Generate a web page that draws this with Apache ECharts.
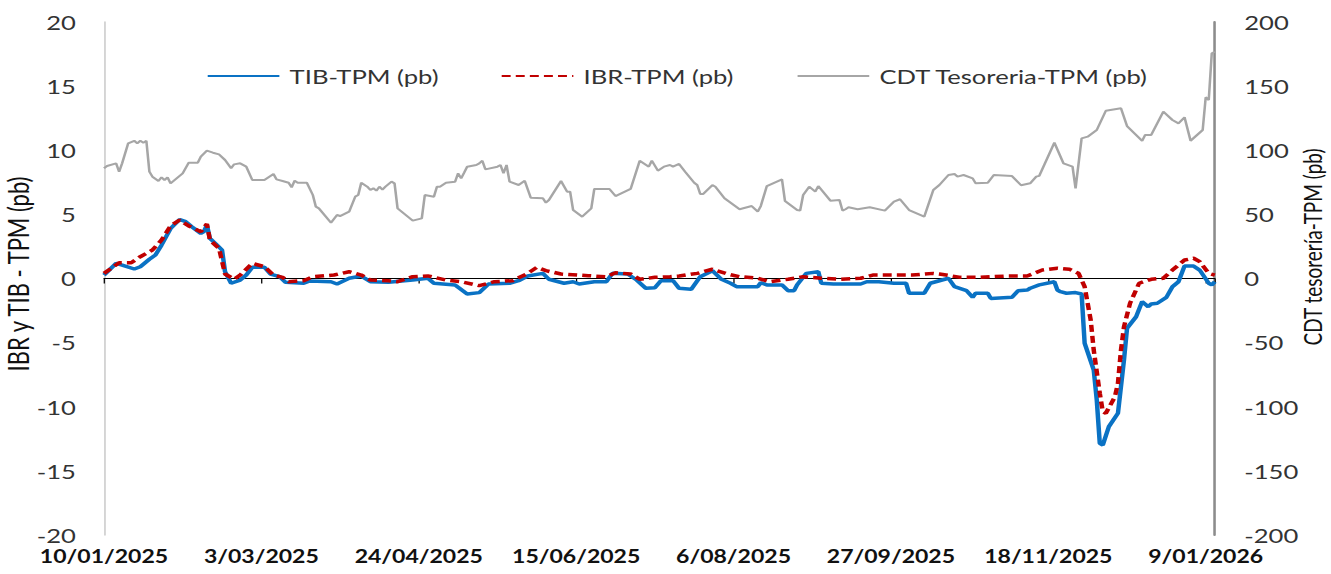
<!DOCTYPE html>
<html>
<head>
<meta charset="utf-8">
<script src="https://cdn.jsdelivr.net/npm/echarts@6/dist/echarts.min.js"></script>
<style>
  html, body { margin: 0; padding: 0; background: #ffffff; overflow: hidden; }
  #main { width: 1040px; height: 574px; transform: scaleX(1.27981); transform-origin: 0 0; }
</style>
</head>
<body>
<div id="main"></div>
<script>
// Days counted from 10/01/2025 (day 0) on a calendar-day axis
const startDate = '10/01/2025';
const tickLabels = ['10/01/2025', '3/03/2025', '24/04/2025', '15/06/2025', '6/08/2025', '27/09/2025', '18/11/2025', '9/01/2026'];
const seriesNames = ['TIB-TPM (pb)', 'IBR-TPM (pb)', 'CDT Tesoreria-TPM (pb)'];

const tibDays = [0,4,6,10,12,15,17,19,22,25,27,29,32,33,34,35,37,39,40,42,45,47,49,53,55,58,60,66,68,75,77,81,85,88,94,102,107,109,116,120,124,127,134,137,140,145,147,152,155,157,162,166,168,173,176,179,182,184,188,190,194,197,201,204,207,209,216,217,219,224,226,228,229,232,236,237,241,250,252,256,261,265,266,271,273,279,281,285,287,288,292,293,300,302,305,306,309,314,315,316,318,321,323,324,327,328,329,330,332,335,337,338,341,343,345,346,348,351,353,355,357,360,362,365,366,367];
const tibValues = [0.27,1.18,1.05,0.74,0.92,1.5,1.83,2.6,3.9,4.6,4.43,4.04,3.52,3.65,4.17,3.13,2.69,2.22,0.53,-0.37,-0.12,0.27,0.87,0.87,0.35,0.14,-0.3,-0.37,-0.19,-0.25,-0.43,0.02,0.19,-0.25,-0.3,-0.12,0.02,-0.37,-0.5,-1.21,-1.1,-0.43,-0.37,-0.17,0.2,0.4,-0.06,-0.37,-0.25,-0.43,-0.25,-0.25,0.4,0.35,-0.12,-0.76,-0.72,-0.17,-0.17,-0.76,-0.84,0.14,0.61,-0.06,-0.37,-0.64,-0.64,-0.33,-0.5,-0.5,-0.95,-0.95,-0.5,0.4,0.53,-0.37,-0.43,-0.43,-0.25,-0.25,-0.37,-0.37,-1.15,-1.15,-0.37,0.02,-0.64,-0.95,-1.47,-1.15,-1.15,-1.55,-1.47,-0.95,-0.9,-0.76,-0.5,-0.25,-0.9,-1.03,-1.15,-1.1,-1.21,-5.05,-7.13,-9.47,-12.85,-12.98,-11.55,-10.51,-6.35,-3.88,-2.98,-1.8,-2.2,-1.99,-1.93,-1.47,-0.64,-0.25,0.97,0.97,0.66,-0.37,-0.5,-0.25];

const ibrDays = [0,5,9,12,16,19,22,25,28,32,34,35,38,40,43,45,49,53,56,59,61,66,69,76,81,85,88,94,97,102,107,113,118,124,129,135,140,143,146,151,160,166,169,174,177,182,187,190,196,201,206,210,216,220,226,231,237,243,250,254,267,274,276,283,289,298,305,310,315,319,322,324,326,327,329,330,331,334,335,336,337,339,342,346,350,353,357,360,362,365,367];
const ibrValues = [0.4,1.23,1.23,1.7,2.22,3.0,4.1,4.56,4.1,3.65,4.25,3.0,2.35,0.35,-0.06,0.27,1.18,0.92,0.27,0.09,-0.25,-0.17,0.14,0.27,0.53,0.27,-0.12,-0.17,-0.25,0.14,0.2,-0.12,-0.25,-0.56,-0.25,-0.17,0.4,0.87,0.61,0.35,0.22,0.14,0.45,0.35,-0.06,0.09,0.14,0.19,0.4,0.72,0.35,0.14,0.02,-0.25,-0.06,0.14,0.02,-0.06,0.02,0.27,0.27,0.4,0.35,0.09,0.09,0.19,0.19,0.66,0.8,0.72,0.4,-0.64,-3.24,-5.58,-8.95,-10.39,-10.51,-9.22,-8.17,-5.58,-3.76,-1.93,-0.37,-0.06,0.02,0.66,1.44,1.58,1.31,0.4,0.27];

const cdtDays = [0,1,4,5,6,8,10,11,12,13,14,15,16,18,19,20,21,22,24,26,28,31,32,34,36,38,40,42,43,45,47,49,53,56,57,59,61,62,63,64,67,69,70,71,75,77,78,81,83,84,85,87,88,89,90,91,92,93,95,96,97,102,105,106,109,110,111,113,116,117,118,119,120,123,124,125,126,130,131,132,133,134,137,139,141,145,146,147,151,153,154,155,158,161,162,167,169,174,177,180,181,183,185,187,188,190,192,195,196,197,198,201,202,205,210,214,216,217,219,224,225,229,230,231,233,235,236,240,243,244,245,246,249,253,258,261,263,266,271,274,276,279,281,282,284,287,288,292,294,300,303,306,308,309,314,317,320,321,323,325,328,331,336,338,343,344,346,350,353,355,357,359,363,364,365,366,367];
const cdtValues = [85.9,87.7,89.8,83.3,89.8,105.4,107.4,105.4,107.4,105.9,107.4,83.3,79.4,76,78.9,76.8,78.9,74.2,78.1,82,90.3,90.3,95,99.7,98.1,96.8,92.4,85.9,89,89.8,87.2,76.8,76.8,81.5,77.3,76,74.7,71.1,76.3,74.7,74.7,65.1,56,54.7,43.5,49.5,48.7,52.1,63.8,65.1,74.7,71.6,69,70.3,68.5,71.6,69.3,71.6,75.5,74.2,54.7,45.1,46.9,65.1,63.8,71.6,71.6,74.7,75.5,82,78.1,82.5,87.2,88.5,89.8,91.9,85.1,87.2,88.5,82,88.5,75.5,72.9,76.3,63,62.5,59.1,61.2,76,67.7,67.7,53.4,48.2,54.7,69.8,69.8,64.3,69.8,91.9,87.2,91.9,84.1,87.2,88.5,87.2,89.3,83.3,74.7,72.9,65.9,65.9,72.9,71.5,62.5,54,56.5,52.1,56.5,72.1,77.3,60.4,53.4,52.9,65.1,71.6,67.7,72.1,60.7,61.2,52.9,54,55.5,54,55.5,52.9,59.9,61.8,53.4,48.2,69,72.9,80.7,81.5,79.4,80.7,78.1,74.2,74.7,80.7,79.9,72.7,74.2,79.4,80,105.9,89.8,87.2,70.3,109.3,110.6,115.8,130.8,132.7,118.9,107.4,111.9,111.9,130.1,123.6,121,125.7,107.4,115.8,141.3,139.2,175.6,176.8];

const lastDay = 367;
const tickStep = 52;

function pairs(days, vals) { return days.map((d, i) => [d, vals[i]]); }

const FONT = 'Lato';
const chart = echarts.init(document.getElementById('main'), null, { renderer: 'svg', width: 1040, height: 574 });

const legendBase = {
  top: 61, itemWidth: 56, itemHeight: 12, selectedMode: false,
  itemStyle: { opacity: 0, borderWidth: 0 },
  textStyle: { fontFamily: FONT, fontSize: 20, color: '#333', padding: [0, 0, 0, 3] }
};

chart.setOption({
  animation: false,
  backgroundColor: '#ffffff',
  grid: { left: 81.25, right: 90.8, top: 22, bottom: 39, containLabel: false },
  legend: [
    Object.assign({}, legendBase, { left: 156.3, data: [seriesNames[0]] }),
    Object.assign({}, legendBase, { left: 386, data: [seriesNames[1]] }),
    Object.assign({}, legendBase, { left: 617.2, data: [seriesNames[2]] })
  ],
  xAxis: [
    {
      type: 'value', min: 0, max: lastDay, interval: tickStep, position: 'bottom',
      axisLine: { show: false, onZero: false },
      axisTick: { show: false },
      splitLine: { show: false },
      axisLabel: {
        margin: 12, fontFamily: FONT, fontSize: 18, fontWeight: 'bold', color: '#111',
        formatter: v => (v % tickStep === 0 && tickLabels[v / tickStep] !== undefined) ? tickLabels[v / tickStep] : ''
      }
    },
    {
      type: 'value', min: 0, max: lastDay, interval: tickStep, position: 'bottom',
      axisLine: { show: true, onZero: true, lineStyle: { color: '#000', width: 1 } },
      axisTick: { show: true, length: 5, inside: false, lineStyle: { color: '#000', width: 1 } },
      axisLabel: { show: false },
      splitLine: { show: false }
    }
  ],
  yAxis: [
    {
      type: 'value', min: -20, max: 20, interval: 5, position: 'left',
      axisLine: { show: true, onZero: false, lineStyle: { color: '#d4d4d4', width: 1.5 } },
      axisTick: { show: false },
      splitLine: { show: false },
      axisLabel: { margin: 22, fontFamily: FONT, fontSize: 20, color: '#333' }
    },
    {
      type: 'value', min: -200, max: 200, interval: 50, position: 'right',
      axisLine: { show: true, onZero: false, lineStyle: { color: '#8c8c8c', width: 2 } },
      axisTick: { show: false },
      splitLine: { show: false },
      axisLabel: { margin: 23, fontFamily: FONT, fontSize: 20, color: '#333' }
    }
  ],
  graphic: [
    {
      type: 'text', x: 14, y: 274, rotation: Math.PI / 2,
      style: { text: 'IBR y TIB - TPM (pb)', fontFamily: FONT, fontSize: 22, fill: '#111', align: 'center', verticalAlign: 'middle' }
    },
    {
      type: 'text', x: 1025.5, y: 247, rotation: Math.PI / 2,
      style: { text: 'CDT tesorería-TPM (pb)', fontFamily: FONT, fontSize: 19, fill: '#111', align: 'center', verticalAlign: 'middle' }
    }
  ],
  series: [
    {
      name: seriesNames[0], type: 'line', xAxisIndex: 0, yAxisIndex: 0,
      data: pairs(tibDays, tibValues), symbol: 'none', showSymbol: false,
      lineStyle: { color: '#0a72c4', width: 3.5 }, itemStyle: { color: '#0a72c4' }
    },
    {
      name: seriesNames[1], type: 'line', xAxisIndex: 0, yAxisIndex: 0,
      data: pairs(ibrDays, ibrValues), symbol: 'none', showSymbol: false,
      lineStyle: { color: '#c00000', width: 3.5, type: [7, 4] }, itemStyle: { color: '#c00000' }
    },
    {
      name: seriesNames[2], type: 'line', xAxisIndex: 0, yAxisIndex: 1,
      data: pairs(cdtDays, cdtValues), symbol: 'none', showSymbol: false,
      lineStyle: { color: '#a6a6a6', width: 2 }, itemStyle: { color: '#a6a6a6' }
    }
  ]
});
</script>
</body>
</html>
